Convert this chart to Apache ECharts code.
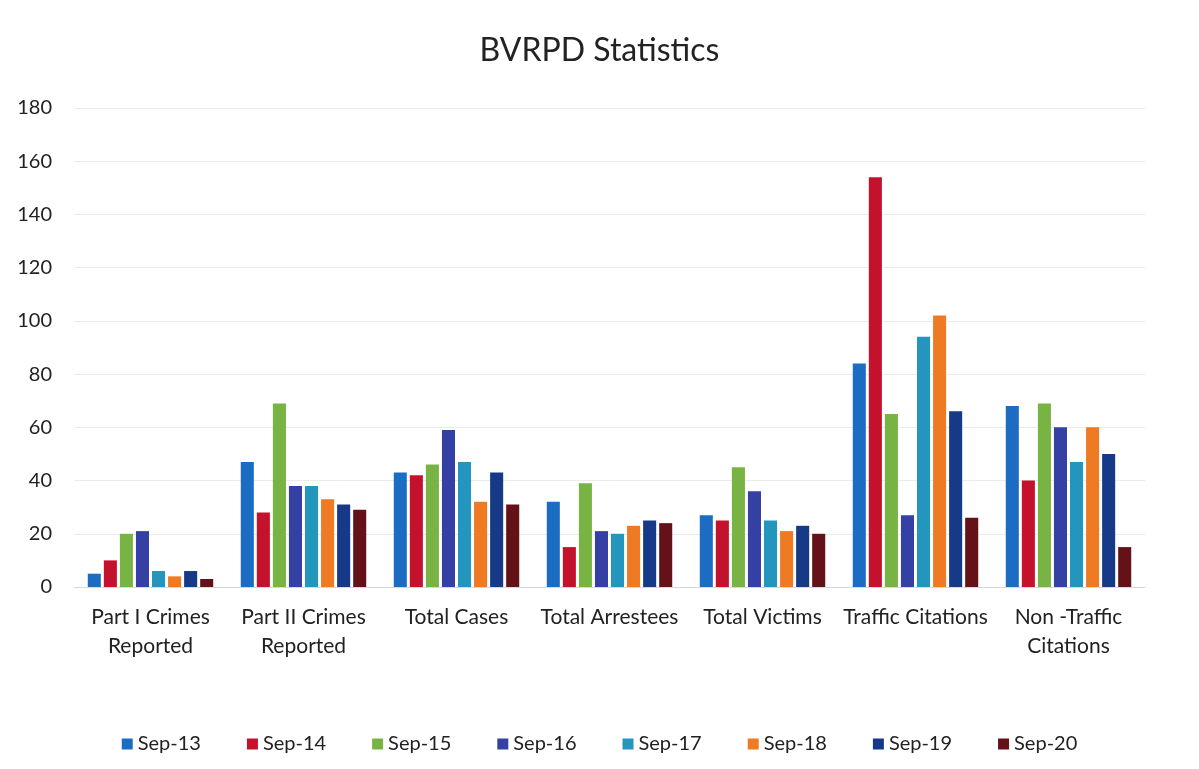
<!DOCTYPE html>
<html><head><meta charset="utf-8">
<script src="https://cdn.jsdelivr.net/npm/echarts@6/dist/echarts.min.js"></script>
<style>html,body{margin:0;padding:0;background:#fff}#c{width:1199px;height:769px}</style>
</head><body><div id="c"></div>
<script>
const categories = ["Part I Crimes\nReported","Part II Crimes\nReported","Total Cases","Total Arrestees","Total Victims","Traffic Citations","Non -Traffic\nCitations"];
const seriesNames = ["Sep-13","Sep-14","Sep-15","Sep-16","Sep-17","Sep-18","Sep-19","Sep-20"];
const sep13 = [5, 47, 43, 32, 27, 84, 68];
const sep14 = [10, 28, 42, 15, 25, 154, 40];
const sep15 = [20, 69, 46, 39, 45, 65, 69];
const sep16 = [21, 38, 59, 21, 36, 27, 60];
const sep17 = [6, 38, 47, 20, 25, 94, 47];
const sep18 = [4, 33, 32, 23, 21, 102, 60];
const sep19 = [6, 31, 43, 25, 23, 66, 50];
const sep20 = [3, 29, 31, 24, 20, 26, 15];
const yTicks = [0, 20, 40, 60, 80, 100, 120, 140, 160, 180];
const colors = ["#1c6cc4","#c4122c","#78b443","#3540a4","#2496bd","#ef7a24","#163a88","#641218"];
const values = [sep13, sep14, sep15, sep16, sep17, sep18, sep19, sep20];
const font = "Lato, 'Open Sans', sans-serif";
const chart = echarts.init(document.getElementById('c'));
chart.setOption({
  animation: false,
  color: colors,
  title: { text: "BVRPD Statistics", left: 'center', top: 30, textStyle: { fontFamily: font, fontSize: 32, fontWeight: 'normal', color: '#222' } },
  legend: { bottom: 10, left: 'center', itemWidth: 11, itemHeight: 11, itemGap: 46, icon: 'rect',
    textStyle: { fontFamily: font, fontSize: 20, color: '#222' }, data: seriesNames },
  grid: { left: 74, right: 54, top: 108, bottom: 182 },
  xAxis: { type: 'category', data: categories,
    axisLine: { lineStyle: { color: '#d8d8d8' } }, axisTick: { show: false },
    axisLabel: { fontFamily: font, fontSize: 21, color: '#222', margin: 16, lineHeight: 29, interval: 0 } },
  yAxis: { type: 'value', min: 0, max: 180, interval: 20,
    axisLabel: { fontFamily: font, fontSize: 20, color: '#222', margin: 22, formatter: v => yTicks.includes(v) ? String(v) : '' },
    splitLine: { lineStyle: { color: '#ebebeb' } }, axisLine: { show: false }, axisTick: { show: false } },
  series: seriesNames.map((n, i) => ({ name: n, type: 'bar', data: values[i], barGap: '23%', barCategoryGap: '18%' }))
});
</script></body></html>
